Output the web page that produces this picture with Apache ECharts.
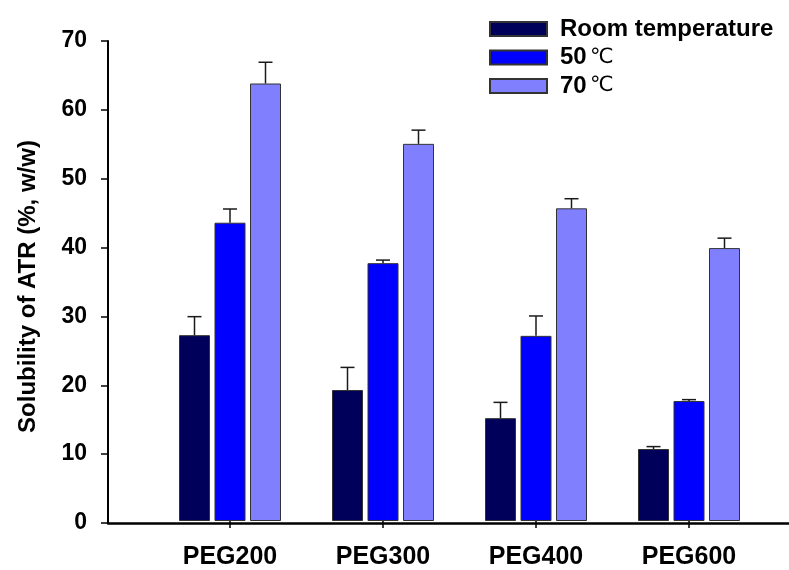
<!DOCTYPE html>
<html>
<head>
<meta charset="utf-8">
<script src="https://cdn.jsdelivr.net/npm/echarts@6/dist/echarts.min.js"></script>
<style>
html,body{margin:0;padding:0;background:#fff;}
#chart{width:789px;height:570px;}
</style>
</head>
<body>
<div id="chart"></div>
<script>
const categories = ['PEG200', 'PEG300', 'PEG400', 'PEG600'];
const seriesNames = ['Room temperature', '50 ℃', '70 ℃'];
const roomTemp = [27.1, 19.1, 15.0, 10.5];
const roomTempErr = [2.7, 3.3, 2.3, 0.35];
const temp50 = [43.5, 37.6, 27.0, 17.5];
const temp50Err = [2.0, 0.45, 2.9, 0.2];
const temp70 = [63.8, 55.0, 45.6, 39.8];
const temp70Err = [3.1, 2.0, 1.4, 1.45];
const yMin = 0, yMax = 70, yInterval = 10;

const FONT = '"Liberation Sans", Arial, sans-serif';
const colors = ['#00005a', '#0000ff', '#8080ff'];
const BAR_W = 31, BAR_GAP = 4.5;
const values = [roomTemp, temp50, temp70];
const errs = [roomTempErr, temp50Err, temp70Err];

function errRenderer(offset) {
  return function (params, api) {
    const i = api.value(0), v = api.value(1), e = api.value(2);
    const base = api.coord([i, v]);
    const top = api.coord([i, v + e]);
    const x = base[0] + offset;
    const st = { stroke: '#1a1a1a', lineWidth: 1.5 };
    return {
      type: 'group',
      children: [
        { type: 'line', shape: { x1: x, y1: base[1], x2: x, y2: top[1] }, style: st },
        { type: 'line', shape: { x1: x - 7, y1: top[1], x2: x + 7, y2: top[1] }, style: st }
      ]
    };
  };
}

const barSeries = seriesNames.map((name, k) => ({
  name: name,
  type: 'bar',
  xAxisIndex: 1,
  yAxisIndex: 1,
  barWidth: BAR_W,
  barGap: (BAR_GAP / BAR_W * 100) + '%',
  data: values[k],
  itemStyle: { color: colors[k], borderColor: '#333', borderWidth: 1 },
  z: 2
}));

const errSeries = seriesNames.map((name, k) => ({
  name: name + ' err',
  type: 'custom',
  xAxisIndex: 1,
  yAxisIndex: 1,
  renderItem: errRenderer((k - 1) * (BAR_W + BAR_GAP)),
  data: categories.map((c, i) => [i, values[k][i], errs[k][i]]),
  z: 3,
  silent: true
}));

const chart = echarts.init(document.getElementById('chart'));
chart.setOption({
  animation: false,
  backgroundColor: '#fff',
  textStyle: { fontFamily: FONT },
  legend: {
    data: seriesNames,
    orient: 'vertical',
    left: 484,
    top: 12,
    icon: 'rect',
    itemWidth: 57,
    itemHeight: 14,
    itemGap: 4.5,
    formatter: function (n) {
      if (n.indexOf('℃') >= 0) {
        return '{b|' + n.replace(' ℃', '') + '} {c|℃}';
      }
      return '{b|' + n + '}';
    },
    textStyle: {
      padding: [0, 0, 0, 8],
      rich: {
        b: { fontFamily: FONT, fontWeight: 'bold', fontSize: 24, color: '#000', lineHeight: 24 },
        c: { fontFamily: '"DejaVu Sans", "Noto Sans CJK SC", sans-serif', fontWeight: 'normal', fontSize: 21, color: '#000', lineHeight: 24 }
      }
    }
  },
  grid: [
    { left: 108, right: 0, top: 41, bottom: 47 },
    { left: 153.5, width: 612, top: 41, bottom: 47 }
  ],
  xAxis: [
    {
      gridIndex: 0,
      type: 'category',
      data: categories,
      axisLine: { show: true, lineStyle: { color: '#000', width: 2.5 } },
      axisTick: { show: false },
      axisLabel: { show: false },
      splitLine: { show: false }
    },
    {
      gridIndex: 1,
      type: 'category',
      data: categories,
      axisLine: { show: false },
      axisTick: { show: true, alignWithLabel: true, length: 7, lineStyle: { color: '#000', width: 1.5 } },
      axisLabel: { fontFamily: FONT, fontWeight: 'bold', fontSize: 25, color: '#000', margin: 24 },
      splitLine: { show: false }
    }
  ],
  yAxis: [
    {
      gridIndex: 0,
      type: 'value',
      min: yMin, max: yMax, interval: yInterval,
      name: 'Solubility of ATR (%, w/w)',
      nameLocation: 'middle',
      nameGap: 68,
      nameTextStyle: { fontFamily: FONT, fontWeight: 'bold', fontSize: 24, color: '#000', padding: [0, 9, 0, 0] },
      axisLine: { show: true, lineStyle: { color: '#000', width: 2 } },
      axisTick: { show: true, length: 7, lineStyle: { color: '#000', width: 1.5 } },
      axisLabel: { fontFamily: FONT, fontWeight: 'bold', fontSize: 23, color: '#000', margin: 21 },
      splitLine: { show: false }
    },
    {
      gridIndex: 1,
      type: 'value',
      min: yMin, max: yMax, interval: yInterval,
      show: false,
      splitLine: { show: false }
    }
  ],
  series: barSeries.concat(errSeries)
});
</script>
</body>
</html>
